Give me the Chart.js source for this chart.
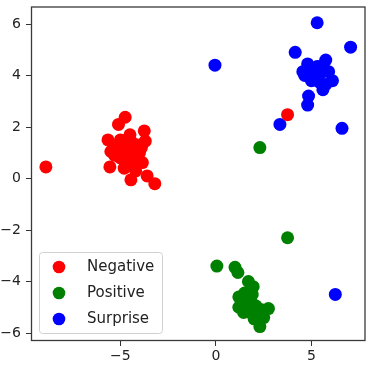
<!DOCTYPE html>
<html>
<head>
<meta charset="utf-8">
<script src="https://cdn.jsdelivr.net/npm/chart.js@4"></script>
<style>
  html, body { margin: 0; padding: 0; background: #fff; }
  #wrap { width: 372px; height: 367px; }
</style>
</head>
<body>
<div id="wrap"><canvas id="scatterChart" width="372" height="367"></canvas></div>
<script>
// series
const negative = [
  [-8.9, 0.45], [3.75, 2.48], [-4.75, 2.38], [-5.1, 2.1], [-3.75, 1.85],
  [-5.65, 1.5], [-3.7, 1.45], [-5.5, 1.05], [-5.55, 0.45], [-4.45, -0.05],
  [-3.6, 0.1], [-3.2, -0.2], [-3.85, 0.62], [-4.2, 0.3], [-5.0, 1.5],
  [-4.7, 1.5], [-4.4, 1.4], [-4.1, 1.3], [-5.2, 1.2], [-4.9, 1.1],
  [-4.6, 1.0], [-4.3, 0.9], [-4.0, 1.0], [-5.0, 0.8], [-4.7, 0.7],
  [-4.4, 0.5], [-4.8, 0.4], [-5.3, 0.9], [-4.5, 1.7], [-3.9, 1.2]
];
const positive = [
  [2.3, 1.2], [3.75, -2.3], [0.05, -3.4], [1.0, -3.45], [1.15, -3.65],
  [1.7, -4.0], [1.95, -4.2], [1.2, -4.6], [1.2, -5.0], [1.45, -5.2],
  [2.75, -5.05], [2.3, -5.75], [2.5, -5.4], [1.85, -4.8], [1.5, -4.45],
  [1.6, -4.9], [2.1, -4.95], [1.8, -5.2], [2.2, -5.2], [1.65, -4.6],
  [2.0, -5.45], [1.4, -4.75], [2.4, -5.1], [1.9, -4.5]
];
const surprise = [
  [5.3, 6.05], [7.05, 5.1], [4.15, 4.9], [-0.05, 4.4], [6.6, 1.95],
  [3.35, 2.1], [4.8, 2.85], [4.85, 3.2], [6.25, -4.5], [4.55, 4.15],
  [4.8, 4.45], [5.75, 4.6], [5.6, 3.45], [6.1, 3.8], [5.15, 3.95],
  [5.4, 3.75], [5.05, 4.25], [5.5, 4.1], [5.9, 4.15], [5.75, 3.65],
  [5.3, 4.35], [4.65, 4.0], [5.0, 3.8], [5.6, 4.4], [4.9, 4.1], [5.25, 4.05]
];
const labels = ['Negative', 'Positive', 'Surprise'];
const colors = ['#ff0000', '#008000', '#0000ff'];
const xTicks = [-5, 0, 5];
const yTicks = [-6, -4, -2, 0, 2, 4, 6];

const toPoints = (arr) => arr.map((p) => ({ x: p[0], y: p[1] }));
const fmt = (v) => String(v).replace('-', '\u2212');

// box round the plot area plus the legend inside it
const framePlugin = {
  id: 'frame',
  afterDraw(chart) {
    const { ctx, chartArea: a } = chart;
    ctx.save();
    ctx.strokeStyle = '#3a3a3a';
    ctx.lineWidth = 1.3;
    ctx.strokeRect(a.left + 0.5, a.top + 0.5, a.right - a.left - 1, a.bottom - a.top - 1);

    // legend box
    const bx = a.left + 8, by = 252, bw = 123, bh = 81;
    ctx.fillStyle = 'rgba(255,255,255,0.8)';
    ctx.strokeStyle = '#d0d0d0';
    ctx.lineWidth = 1;
    ctx.beginPath();
    ctx.roundRect(bx + 0.5, by + 0.5, bw, bh, 3);
    ctx.fill();
    ctx.stroke();
    ctx.font = '15px "DejaVu Sans"';
    ctx.textBaseline = 'middle';
    chart.data.datasets.forEach((ds, i) => {
      const cy = by + 15 + i * 26;
      ctx.fillStyle = ds.backgroundColor;
      ctx.beginPath();
      ctx.arc(bx + 20, cy, 6.3, 0, Math.PI * 2);
      ctx.fill();
      ctx.fillStyle = '#222';
      ctx.fillText(ds.label, bx + 48, cy);
    });
    ctx.restore();
  }
};

const noPad = (axis) => {
  axis.paddingTop = 0;
  axis.paddingBottom = 0;
  axis.paddingLeft = 0;
  axis.paddingRight = 0;
};

const ctx = document.getElementById('scatterChart').getContext('2d');
const sets = [negative, positive, surprise];
new Chart(ctx, {
  type: 'scatter',
  data: {
    datasets: sets.map((s, i) => ({
      label: labels[i],
      data: toPoints(s),
      backgroundColor: colors[i],
      borderColor: colors[i],
      borderWidth: 0,
      pointRadius: 6.5,
      pointHoverRadius: 6.5
    }))
  },
  options: {
    responsive: false,
    animation: false,
    layout: { padding: { top: 6, right: 3, left: 0, bottom: 0 } },
    plugins: {
      legend: { display: false },
      tooltip: { enabled: false }
    },
    scales: {
      x: {
        type: 'linear',
        min: -9.68,
        max: 7.83,
        afterBuildTicks: (axis) => { axis.ticks = xTicks.map((v) => ({ value: v })); },
        afterFit: (axis) => { axis.height = 26; noPad(axis); },
        grid: { drawOnChartArea: false, drawTicks: true, tickLength: 5, color: '#333' },
        border: { display: false },
        ticks: {
          color: '#222',
          padding: 2,
          font: { family: 'DejaVu Sans', size: 14 },
          callback: (v) => fmt(v)
        }
      },
      y: {
        type: 'linear',
        min: -6.31,
        max: 6.68,
        afterBuildTicks: (axis) => { axis.ticks = yTicks.map((v) => ({ value: v })); },
        afterFit: (axis) => { axis.width = 31; noPad(axis); },
        grid: { drawOnChartArea: false, drawTicks: true, tickLength: 5, color: '#333' },
        border: { display: false },
        ticks: {
          color: '#222',
          padding: 5,
          font: { family: 'DejaVu Sans', size: 14 },
          callback: (v) => fmt(v)
        }
      }
    }
  },
  plugins: [framePlugin]
});
</script>
</body>
</html>
